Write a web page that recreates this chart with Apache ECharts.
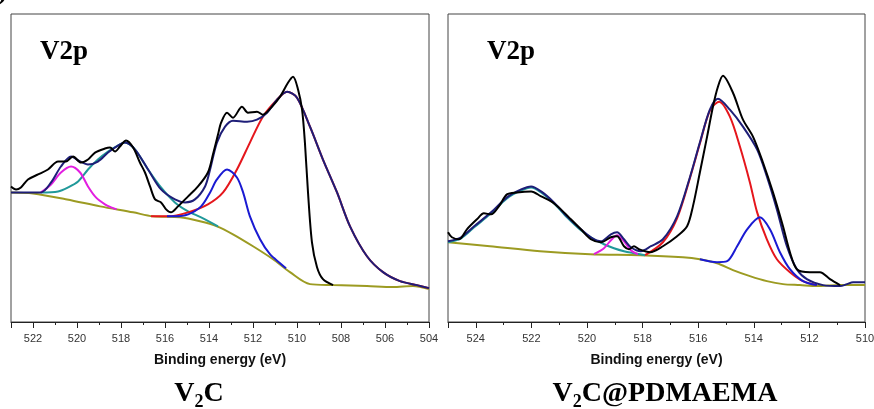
<!DOCTYPE html>
<html>
<head>
<meta charset="utf-8">
<script src="https://cdn.jsdelivr.net/npm/echarts@6/dist/echarts.min.js"></script>
<style>
html,body{margin:0;padding:0;background:#fff;}
#c{width:874px;height:409px;}
</style>
</head>
<body>
<div id="c"></div>
<script>
// ---------- Tick / axis ranges ----------
const leftRange = [504, 523];
const rightRange = [510, 525];
const tickStep = 2;
const axisName = 'Binding energy (eV)';
const panelLabel = 'V2p';

// ---------- Left panel: V2C  [binding energy (eV), intensity (a.u.)] ----------
const leftExperimental = [[523.0,136],[522.77,133],[522.55,135],[522.23,143],[521.77,148],[521.32,153],[520.86,161],[520.5,161],[520.18,166],[519.82,160],[519.5,163],[519.18,170],[518.73,174],[518.5,175],[518.27,171],[518.05,176],[517.77,182],[517.45,175],[517.14,160],[516.91,150],[516.68,136],[516.45,123],[516.18,120],[515.95,113],[515.73,110],[515.41,116],[514.95,126],[514.5,136],[514.05,150],[513.82,168],[513.59,188],[513.45,200],[513.18,210],[512.91,205],[512.5,216],[512.23,210],[511.82,211],[511.55,208],[511.14,216],[510.77,226],[510.41,240],[510.18,246],[509.95,233],[509.77,213],[509.64,180],[509.5,130],[509.32,80],[509.09,55],[508.82,43],[508.36,37]];
const leftEnvelope = [[523.0,130],[521.64,130],[521.18,140],[520.73,156],[520.27,166],[519.86,161],[519.5,158],[519.05,161],[518.59,170],[518.14,177],[517.82,180],[517.36,173],[516.77,153],[516.18,133],[515.55,123],[515.09,120],[514.64,123],[514.18,136],[513.95,153],[513.64,180],[513.27,196],[512.91,202],[512.27,201],[511.82,203],[511.36,210],[510.91,223],[510.45,231],[510.0,225],[509.41,196],[508.82,163],[508.18,130],[507.59,96],[506.82,66],[506.09,50],[505.32,41],[504.55,37],[504.0,34]];
const leftBaseline = [[523.0,130],[522.0,129],[520.45,123],[518.95,116],[517.45,110],[516.55,106],[515.32,105],[514.41,101],[513.64,96],[512.91,88],[512.0,76],[511.09,63],[510.32,50],[509.41,38],[508.36,37],[506.82,36],[505.64,35],[504.73,36],[504.0,33]];
const leftPeakMagenta = [[521.64,130],[521.18,138],[520.73,150],[520.27,156],[519.86,150],[519.5,136],[519.14,125],[518.73,118],[518.45,115],[518.2,113]];
const leftPeakTeal = [[521.64,130],[520.86,131],[520.41,135],[519.95,141],[519.5,153],[519.05,163],[518.59,171],[518.14,177],[517.82,180],[517.36,173],[516.77,153],[516.18,135],[515.55,120],[514.95,111],[514.36,105],[513.59,96]];
const leftPeakBlue = [[515.91,106],[515.55,106],[514.95,108],[514.36,116],[513.95,130],[513.64,143],[513.18,153],[512.73,145],[512.45,130],[512.14,106],[511.68,83],[511.23,68],[510.77,59],[510.5,54]];
const leftPeakRed = [[516.64,106],[515.86,106],[514.95,110],[514.05,118],[513.36,130],[512.73,153],[512.14,180],[511.55,206],[510.91,223],[510.45,231],[510.0,225],[509.41,196],[508.82,163],[508.18,130],[507.59,96],[506.82,66],[506.09,50],[505.32,41],[504.55,37],[504.0,34]];

// ---------- Right panel: V2C@PDMAEMA ----------
const rightExperimental = [[525.0,90],[524.86,85],[524.6,83],[524.32,93],[523.96,103],[523.71,109],[523.45,108],[523.17,116],[522.88,128],[522.52,130],[522.01,131],[521.65,126],[521.29,121],[520.94,113],[520.58,103],[520.22,93],[519.86,83],[519.5,80],[519.14,85],[518.92,86],[518.67,76],[518.49,73],[518.31,76],[518.13,73],[517.73,70],[517.27,76],[516.76,86],[516.4,96],[516.19,116],[515.94,150],[515.68,186],[515.47,216],[515.29,236],[515.11,247],[514.75,230],[514.39,203],[514.03,186],[513.67,160],[513.31,130],[512.95,96],[512.7,70],[512.45,53],[511.98,50],[511.62,50],[511.26,43],[510.9,37]];
const rightEnvelope = [[525.0,81],[524.53,85],[524.06,96],[523.45,110],[522.88,125],[522.37,133],[522.01,136],[521.65,131],[521.19,120],[520.72,106],[520.22,93],[519.86,85],[519.5,81],[519.14,88],[518.92,90],[518.67,83],[518.42,75],[518.06,71],[517.7,76],[517.27,83],[516.76,106],[516.29,146],[515.94,180],[515.58,213],[515.29,224],[514.86,213],[514.39,196],[513.88,173],[513.53,146],[513.17,113],[512.81,76],[512.45,53],[512.09,43],[511.51,37],[510.9,36],[510.65,38],[510.43,40],[510.0,40]];
const rightBaseline = [[525.0,80],[523.49,76],[521.69,71],[519.89,68],[518.09,67],[516.55,65],[515.94,63],[515.32,59],[514.75,52],[514.14,46],[513.53,41],[512.95,38],[512.34,37],[511.73,36],[510.9,37],[510.0,37]];
const rightPeakTeal = [[525.0,80],[524.53,84],[524.06,95],[523.45,109],[522.88,124],[522.37,132],[522.01,135],[521.65,130],[521.19,119],[520.72,105],[520.22,92],[519.75,83],[519.39,78],[519.03,74],[518.67,71],[518.31,69],[517.91,67]];
const rightPeakMagenta = [[519.75,68],[519.39,74],[519.14,82],[518.92,87],[518.67,81],[518.42,72],[518.17,68]];
const rightPeakRed = [[517.91,67],[517.27,80],[516.76,104],[516.29,145],[515.94,179],[515.58,212],[515.25,221],[514.86,206],[514.5,176],[514.14,140],[513.88,110],[513.53,83],[513.17,63],[512.7,50],[512.23,41],[511.73,37]];
const rightPeakBlue = [[515.94,63],[515.32,60],[514.96,61],[514.6,76],[514.24,93],[513.78,105],[513.42,93],[513.06,70],[512.7,53],[512.23,41],[511.73,37]];

const COLORS = {black:'#000000', navy:'#1e1e78', red:'#e5161c', blue:'#1a1ad2', magenta:'#e21ee0', teal:'#20999a', olive:'#9c9b22'};

function xAxis(grid, range){
  return {
    type:'value', gridIndex:grid, min:range[0], max:range[1], interval:tickStep, inverse:true,
    axisLine:{show:true, onZero:false, lineStyle:{color:'#222', width:1}},
    axisTick:{show:true, inside:false, length:6, lineStyle:{color:'#222', width:1}},
    minorTick:{show:true, splitNumber:2, length:3, lineStyle:{color:'#222', width:1}},
    splitLine:{show:false}, minorSplitLine:{show:false},
    axisLabel:{color:'#333', fontSize:11, fontFamily:'Liberation Sans, Arial', margin:11, showMaxLabel:false, showMinLabel:true, hideOverlap:false},
    name:axisName, nameLocation:'middle', nameGap:31,
    nameTextStyle:{fontFamily:'Liberation Sans, Arial', fontWeight:'bold', fontSize:14, color:'#111'}
  };
}
function yAxis(grid){
  return {type:'value', gridIndex:grid, min:0, max:309, show:false, splitLine:{show:false}};
}
function line(grid, data, color, z){
  return {type:'line', xAxisIndex:grid, yAxisIndex:grid, data:data, symbol:'none', showSymbol:false,
    smooth:0.3, z:z, lineStyle:{color:color, width:2}, silent:true, animation:false};
}

const chart = echarts.init(document.getElementById('c'), null, {renderer:'canvas'});
const serif = 'Liberation Serif, Times New Roman, serif';
chart.setOption({
  backgroundColor:'#fff',
  animation:false,
  grid:[
    {left:11, top:14, width:418, height:308, show:true, borderColor:'#444', borderWidth:1, backgroundColor:'transparent', containLabel:false, outerBoundsMode:'none'},
    {left:448, top:14, width:417, height:308, show:true, borderColor:'#444', borderWidth:1, backgroundColor:'transparent', containLabel:false, outerBoundsMode:'none'}
  ],
  xAxis:[xAxis(0, leftRange), xAxis(1, rightRange)],
  yAxis:[yAxis(0), yAxis(1)],
  series:[
    line(0, leftBaseline, COLORS.olive, 2),
    line(0, leftPeakTeal, COLORS.teal, 3),
    line(0, leftPeakMagenta, COLORS.magenta, 4),
    line(0, leftPeakRed, COLORS.red, 5),
    line(0, leftPeakBlue, COLORS.blue, 6),
    line(0, leftEnvelope, COLORS.navy, 7),
    line(0, leftExperimental, COLORS.black, 8),
    line(1, rightBaseline, COLORS.olive, 2),
    line(1, rightPeakTeal, COLORS.teal, 3),
    line(1, rightPeakMagenta, COLORS.magenta, 4),
    line(1, rightPeakRed, COLORS.red, 5),
    line(1, rightPeakBlue, COLORS.blue, 6),
    line(1, rightEnvelope, COLORS.navy, 7),
    line(1, rightExperimental, COLORS.black, 8)
  ],
  graphic:{elements:[
    {type:'text', x:-2, y:-8, style:{text:')', fontFamily:serif, fontWeight:'bold', fontSize:28, fill:'#000', textAlign:'left', align:'left', textVerticalAlign:'middle', verticalAlign:'middle'}},
    {type:'text', x:40, y:52, style:{text:panelLabel, fontFamily:serif, fontWeight:'bold', fontSize:27, fill:'#000', textAlign:'left', align:'left', textVerticalAlign:'middle', verticalAlign:'middle'}},
    {type:'text', x:487, y:52, style:{text:panelLabel, fontFamily:serif, fontWeight:'bold', fontSize:27, fill:'#000', textAlign:'left', align:'left', textVerticalAlign:'middle', verticalAlign:'middle'}},
    {type:'text', x:199, y:394, style:{text:'{a|V}{s|2}{a|C}', textAlign:'center', align:'center', textVerticalAlign:'middle', verticalAlign:'middle',
      rich:{a:{fontFamily:serif, fontWeight:'bold', fontSize:28, lineHeight:32, fill:'#000', color:'#000'}, s:{fontFamily:serif, fontWeight:'bold', fontSize:18, lineHeight:34, fill:'#000', color:'#000', verticalAlign:'bottom'}}}},
    {type:'text', x:665, y:394, style:{text:'{a|V}{s|2}{a|C@PDMAEMA}', textAlign:'center', align:'center', textVerticalAlign:'middle', verticalAlign:'middle',
      rich:{a:{fontFamily:serif, fontWeight:'bold', fontSize:28, lineHeight:32, fill:'#000', color:'#000'}, s:{fontFamily:serif, fontWeight:'bold', fontSize:18, lineHeight:34, fill:'#000', color:'#000', verticalAlign:'bottom'}}}}
  ]}
});
</script>
</body>
</html>
